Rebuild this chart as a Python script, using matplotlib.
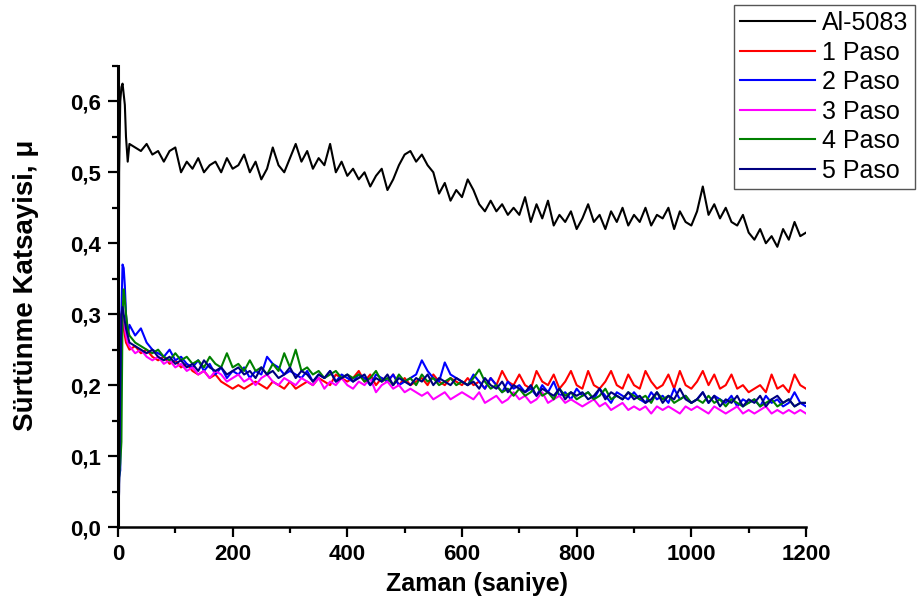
import matplotlib
matplotlib.use("Agg")
import matplotlib.pyplot as plt
from matplotlib.ticker import MultipleLocator, FuncFormatter

# time axis (s): dense at the start, then every 10 s
t_early = [0, 2, 4, 6, 8, 10, 12, 14, 17]
time = t_early + list(range(20, 1201, 10))

al5083 = [0.00, 0.50, 0.60, 0.62, 0.625, 0.61, 0.595, 0.55, 0.515,
          0.54, 0.535, 0.53, 0.54, 0.525, 0.53, 0.515, 0.53, 0.535,
          0.50, 0.515, 0.505, 0.52, 0.50, 0.51, 0.515, 0.50, 0.52, 0.505,
          0.51, 0.525, 0.50, 0.515, 0.49, 0.505, 0.535, 0.51, 0.50, 0.52,
          0.54, 0.515, 0.53, 0.505, 0.52, 0.51, 0.54, 0.50, 0.515, 0.495,
          0.505, 0.49, 0.50, 0.48, 0.495, 0.505, 0.475, 0.49, 0.51, 0.525,
          0.53, 0.515, 0.525, 0.51, 0.50, 0.47, 0.485, 0.46, 0.475, 0.465,
          0.49, 0.475, 0.455, 0.445, 0.46, 0.445, 0.455, 0.44, 0.45, 0.44,
          0.465, 0.43, 0.455, 0.435, 0.46, 0.425, 0.44, 0.43, 0.445, 0.42,
          0.435, 0.455, 0.43, 0.44, 0.42, 0.445, 0.43, 0.45, 0.425, 0.44,
          0.43, 0.45, 0.425, 0.44, 0.435, 0.45, 0.42, 0.445, 0.43, 0.425,
          0.445, 0.48, 0.44, 0.455, 0.435, 0.45, 0.43, 0.425, 0.44, 0.415,
          0.405, 0.42, 0.40, 0.41, 0.395, 0.42, 0.405, 0.43, 0.41, 0.415]

paso1 = [0.00, 0.15, 0.27, 0.30, 0.29, 0.28, 0.27, 0.26, 0.255,
         0.25, 0.255, 0.245, 0.25, 0.24, 0.235, 0.24, 0.23, 0.235,
         0.225, 0.23, 0.22, 0.215, 0.22, 0.21, 0.215, 0.205, 0.20, 0.195,
         0.20, 0.195, 0.20, 0.205, 0.20, 0.195, 0.205, 0.20, 0.195, 0.205,
         0.195, 0.20, 0.205, 0.20, 0.21, 0.205, 0.20, 0.215, 0.21, 0.205,
         0.21, 0.22, 0.205, 0.215, 0.20, 0.21, 0.205, 0.215, 0.20, 0.21,
         0.20, 0.205, 0.21, 0.20, 0.215, 0.205, 0.20, 0.21, 0.205, 0.20,
         0.21, 0.20, 0.205, 0.195, 0.21, 0.20, 0.22, 0.205, 0.20, 0.215,
         0.20, 0.195, 0.22, 0.205, 0.20, 0.215, 0.195, 0.205, 0.22, 0.20,
         0.195, 0.22, 0.20, 0.195, 0.205, 0.22, 0.20, 0.195, 0.215, 0.20,
         0.195, 0.22, 0.205, 0.195, 0.20, 0.215, 0.195, 0.22, 0.20, 0.195,
         0.205, 0.22, 0.20, 0.215, 0.195, 0.20, 0.215, 0.195, 0.20, 0.19,
         0.195, 0.20, 0.19, 0.215, 0.195, 0.20, 0.19, 0.215, 0.20, 0.195]

paso2 = [0.00, 0.07, 0.08, 0.30, 0.37, 0.365, 0.34, 0.30, 0.27,
         0.285, 0.27, 0.28, 0.26, 0.25, 0.245, 0.24, 0.25, 0.235,
         0.24, 0.23, 0.225, 0.235, 0.22, 0.23, 0.215, 0.225, 0.21, 0.22,
         0.215, 0.225, 0.21, 0.22, 0.215, 0.24, 0.23, 0.225, 0.215, 0.22,
         0.215, 0.21, 0.22, 0.205, 0.215, 0.21, 0.22, 0.205, 0.215, 0.21,
         0.205, 0.215, 0.21, 0.20, 0.215, 0.21, 0.205, 0.215, 0.20, 0.205,
         0.21, 0.215, 0.235, 0.22, 0.21, 0.205, 0.232, 0.215, 0.21, 0.205,
         0.20, 0.215, 0.205, 0.195, 0.21, 0.20, 0.19, 0.205, 0.195, 0.20,
         0.19, 0.195, 0.185, 0.20, 0.19, 0.205, 0.185, 0.19, 0.18, 0.195,
         0.185, 0.19, 0.18, 0.195, 0.185, 0.175, 0.19, 0.185, 0.18, 0.19,
         0.18, 0.175, 0.19, 0.18, 0.185, 0.175, 0.195, 0.18, 0.185, 0.175,
         0.18, 0.19, 0.175, 0.185, 0.18, 0.175, 0.185, 0.17, 0.18, 0.175,
         0.18, 0.17, 0.185, 0.175, 0.18, 0.17, 0.175, 0.19, 0.175, 0.17]

paso3 = [0.00, 0.10, 0.26, 0.29, 0.30, 0.29, 0.28, 0.27, 0.26,
         0.255, 0.245, 0.25, 0.24, 0.235, 0.24, 0.23, 0.235, 0.225,
         0.23, 0.22, 0.225, 0.215, 0.22, 0.21, 0.22, 0.215, 0.205, 0.21,
         0.215, 0.205, 0.21, 0.20, 0.21, 0.215, 0.205, 0.20, 0.21, 0.205,
         0.20, 0.21, 0.205, 0.20, 0.21, 0.195, 0.205, 0.20, 0.21, 0.20,
         0.195, 0.205, 0.20, 0.21, 0.19, 0.20, 0.205, 0.195, 0.20, 0.19,
         0.195, 0.19, 0.185, 0.19, 0.18, 0.185, 0.19, 0.18, 0.185, 0.19,
         0.185, 0.18, 0.19, 0.175, 0.18, 0.185, 0.175, 0.18, 0.19, 0.18,
         0.185, 0.175, 0.18, 0.19, 0.175, 0.18, 0.185, 0.175, 0.18, 0.175,
         0.17, 0.175, 0.18, 0.17, 0.175, 0.165, 0.17, 0.175, 0.165, 0.17,
         0.165, 0.17, 0.16, 0.17, 0.165, 0.17, 0.165, 0.16, 0.17, 0.165,
         0.17, 0.165, 0.16, 0.17, 0.165, 0.16, 0.165, 0.17, 0.16, 0.165,
         0.16, 0.165, 0.17, 0.16, 0.165, 0.16, 0.165, 0.16, 0.165, 0.16]

paso4 = [0.00, 0.07, 0.09, 0.12, 0.30, 0.335, 0.32, 0.30, 0.28,
         0.27, 0.26, 0.255, 0.25, 0.245, 0.25, 0.24, 0.235, 0.245,
         0.235, 0.24, 0.23, 0.235, 0.225, 0.24, 0.23, 0.225, 0.245, 0.225,
         0.23, 0.22, 0.235, 0.22, 0.225, 0.215, 0.23, 0.22, 0.245, 0.225,
         0.25, 0.22, 0.225, 0.215, 0.22, 0.21, 0.215, 0.22, 0.21, 0.215,
         0.21, 0.215, 0.205, 0.21, 0.22, 0.205, 0.21, 0.20, 0.215, 0.205,
         0.21, 0.20, 0.215, 0.205, 0.21, 0.20, 0.205, 0.21, 0.20, 0.205,
         0.20, 0.21, 0.222, 0.205, 0.195, 0.20, 0.19, 0.195, 0.185, 0.195,
         0.185, 0.19, 0.20, 0.185, 0.19, 0.18, 0.195, 0.185, 0.19, 0.18,
         0.185, 0.19, 0.18, 0.185, 0.195, 0.18, 0.185, 0.18, 0.19, 0.185,
         0.18, 0.185, 0.175, 0.19, 0.18, 0.185, 0.175, 0.18, 0.185, 0.175,
         0.18, 0.175, 0.185, 0.175, 0.18, 0.17, 0.18, 0.175, 0.17, 0.175,
         0.18, 0.17, 0.175, 0.18, 0.17, 0.175, 0.18, 0.17, 0.175, 0.175]

paso5 = [0.00, 0.05, 0.20, 0.30, 0.31, 0.30, 0.29, 0.28, 0.27,
         0.26, 0.255, 0.25, 0.245, 0.25, 0.24, 0.235, 0.24, 0.23,
         0.235, 0.225, 0.23, 0.22, 0.235, 0.225, 0.22, 0.225, 0.215, 0.22,
         0.225, 0.215, 0.22, 0.21, 0.225, 0.215, 0.22, 0.21, 0.215, 0.225,
         0.21, 0.22, 0.215, 0.205, 0.215, 0.21, 0.22, 0.205, 0.21, 0.215,
         0.205, 0.21, 0.215, 0.20, 0.21, 0.205, 0.215, 0.20, 0.21, 0.205,
         0.20, 0.21, 0.205, 0.215, 0.20, 0.21, 0.205, 0.20, 0.21, 0.205,
         0.20, 0.205, 0.195, 0.21, 0.20, 0.195, 0.205, 0.19, 0.20, 0.195,
         0.19, 0.20, 0.185, 0.195, 0.19, 0.185, 0.195, 0.18, 0.19, 0.185,
         0.19, 0.18, 0.185, 0.195, 0.18, 0.19, 0.185, 0.18, 0.19, 0.18,
         0.185, 0.175, 0.18, 0.19, 0.175, 0.185, 0.18, 0.195, 0.18, 0.175,
         0.18, 0.19, 0.175, 0.185, 0.17, 0.18, 0.175, 0.185, 0.17, 0.18,
         0.175, 0.185, 0.17, 0.18, 0.185, 0.175, 0.18, 0.17, 0.175, 0.175]

labels = ["Al-5083", "1 Paso", "2 Paso", "3 Paso", "4 Paso", "5 Paso"]
series = [al5083, paso1, paso2, paso3, paso4, paso5]
colors = ["black", "#ff0000", "#0000ff", "#ff00ff", "#008000", "#000080"]

plt.rcParams['font.family'] = ['Liberation Sans', 'DejaVu Sans']

fig = plt.figure(figsize=(9.18, 6.10), dpi=100)
ax = fig.add_axes([0.1285, 0.136, 0.7495, 0.756])

for y, c, lab in zip(series, colors, labels):
    ax.plot(time, y, color=c, lw=1.5, label=lab)

ax.set_xlim(0, 1200)
ax.set_ylim(0, 0.65)
ax.spines['top'].set_visible(False)
ax.spines['right'].set_visible(False)
ax.spines['left'].set_linewidth(2.2)
ax.spines['bottom'].set_linewidth(1.8)

ax.xaxis.set_major_locator(MultipleLocator(200))
ax.xaxis.set_minor_locator(MultipleLocator(100))
ax.yaxis.set_major_locator(MultipleLocator(0.1))
ax.yaxis.set_minor_locator(MultipleLocator(0.05))
ax.yaxis.set_major_formatter(FuncFormatter(lambda v, p: f"{v:.1f}".replace(".", ",")))
ax.tick_params(which='major', direction='out', length=7, width=1.6, labelsize=16, pad=5)
ax.tick_params(which='minor', direction='out', length=4, width=1.6)
for lbl in ax.get_xticklabels() + ax.get_yticklabels():
    lbl.set_fontweight('bold')

ax.set_xlabel("Zaman (saniye)", fontsize=18, fontweight='bold')
ax.set_ylabel("Sürtünme Katsayisi, μ", fontsize=20, fontweight='bold')
ax.xaxis.set_label_coords(0.522, -0.097)
ax.yaxis.set_label_coords(-0.115, 0.525)

leg = fig.legend(loc='upper right', bbox_to_anchor=(0.9967, 0.992), fontsize=18,
                 handlelength=3.0, labelspacing=0.22, borderpad=0.25,
                 handletextpad=0.3, borderaxespad=0, fancybox=False, framealpha=1)
leg.get_frame().set_edgecolor('#555555')
leg.get_frame().set_linewidth(1.0)

fig.savefig("out.png", dpi=100)
